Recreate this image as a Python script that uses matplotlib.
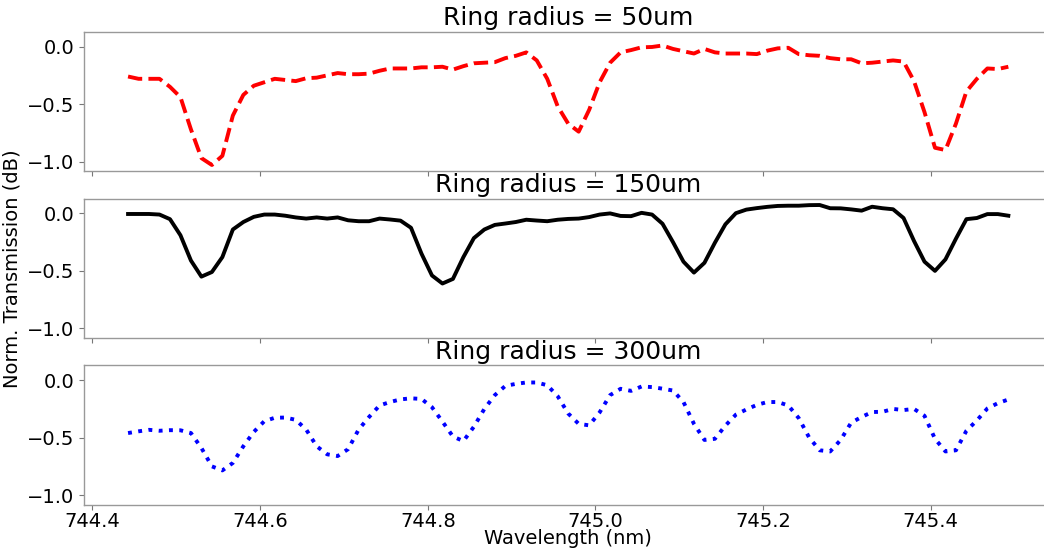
import numpy as np
import matplotlib
matplotlib.use("Agg")
import matplotlib.pyplot as plt

# Wavelength grid (nm), evenly sampled
wavelength = np.linspace(744.4425, 745.4925, 85)

r50 = [-0.26, -0.28, -0.28, -0.28, -0.35, -0.44, -0.72, -0.97, -1.03, -0.95,
       -0.60, -0.42, -0.34, -0.31, -0.28, -0.29, -0.30, -0.275, -0.27, -0.25,
       -0.23, -0.24, -0.24, -0.235, -0.21, -0.19, -0.19, -0.19, -0.18, -0.18,
       -0.175, -0.20, -0.17, -0.145, -0.14, -0.135, -0.10, -0.08, -0.05, -0.12,
       -0.28, -0.52, -0.67, -0.74, -0.55, -0.31, -0.14, -0.05, -0.03, -0.006,
       -0.003, 0.01, -0.02, -0.04, -0.06, -0.02, -0.05, -0.06, -0.06, -0.06,
       -0.065, -0.035, -0.015, -0.01, -0.065, -0.075, -0.08, -0.10, -0.11, -0.11,
       -0.145, -0.14, -0.13, -0.12, -0.13, -0.30, -0.57, -0.88, -0.90, -0.67,
       -0.39, -0.28, -0.19, -0.195, -0.175]

r150 = [-0.005, -0.005, -0.005, -0.01, -0.05, -0.19, -0.41, -0.55, -0.51, -0.38,
        -0.14, -0.075, -0.03, -0.01, -0.01, -0.02, -0.035, -0.045, -0.035, -0.045,
        -0.035, -0.06, -0.068, -0.068, -0.045, -0.053, -0.063, -0.125, -0.35, -0.54,
        -0.61, -0.57, -0.38, -0.215, -0.14, -0.10, -0.088, -0.075, -0.055, -0.062,
        -0.068, -0.055, -0.048, -0.045, -0.032, -0.01, 0.0, -0.022, -0.024, 0.005,
        -0.01, -0.09, -0.25, -0.42, -0.515, -0.43, -0.255, -0.095, 0.002, 0.033,
        0.046, 0.057, 0.065, 0.067, 0.067, 0.072, 0.073, 0.045, 0.044, 0.035,
        0.024, 0.058, 0.045, 0.036, -0.04, -0.24, -0.42, -0.50, -0.40, -0.22,
        -0.05, -0.04, -0.006, -0.006, -0.02]

r300 = [-0.46, -0.445, -0.432, -0.44, -0.435, -0.436, -0.46, -0.59, -0.75, -0.785,
        -0.72, -0.575, -0.45, -0.357, -0.327, -0.325, -0.345, -0.43, -0.575, -0.645,
        -0.66, -0.60, -0.43, -0.32, -0.22, -0.19, -0.167, -0.158, -0.163, -0.235,
        -0.36, -0.49, -0.53, -0.405, -0.25, -0.13, -0.05, -0.032, -0.02, -0.02,
        -0.044, -0.14, -0.29, -0.38, -0.393, -0.28, -0.13, -0.075, -0.093, -0.055,
        -0.06, -0.074, -0.09, -0.19, -0.38, -0.52, -0.51, -0.395, -0.30, -0.255,
        -0.215, -0.19, -0.19, -0.22, -0.33, -0.50, -0.61, -0.62, -0.52, -0.37,
        -0.32, -0.277, -0.275, -0.25, -0.26, -0.25, -0.31, -0.51, -0.62, -0.61,
        -0.44, -0.35, -0.246, -0.20, -0.168]

titles = ["Ring radius = 50um", "Ring radius = 150um", "Ring radius = 300um"]
series = [r50, r150, r300]
colors = ["red", "black", "blue"]
styles = ["--", "-", ":"]
xticks = [744.4, 744.6, 744.8, 745.0, 745.2, 745.4]
yticks = [0.0, -0.5, -1.0]

plt.rcParams["font.family"] = ["DejaVu Sans"]
fig, axes = plt.subplots(3, 1, sharex=True, sharey=True, figsize=(10.44, 5.5), dpi=100)
fig.subplots_adjust(left=0.0805, right=1.008, top=0.942, bottom=0.082, hspace=0.196)

for ax, t, y, c, ls in zip(axes, titles, series, colors, styles):
    ax.plot(wavelength, y, color=c, linestyle=ls, linewidth=2.8)
    ax.set_title(t, fontsize=18, pad=5)
    ax.tick_params(labelsize=14, color="#777777")
    ax.tick_params(axis="x", pad=1.5)
    for sp in ax.spines.values():
        sp.set_color("#999999")
        sp.set_linewidth(1.0)

axes[-1].set_xticks(xticks)
axes[-1].set_xticklabels([f"{v:.1f}" for v in xticks])
axes[0].set_yticks(yticks)
axes[0].set_yticklabels([f"{v:.1f}".replace("-", "\u2212") for v in yticks])
axes[-1].set_xlabel("Wavelength (nm)", fontsize=14, labelpad=-1)
axes[1].set_ylabel("Norm. Transmission (dB)", fontsize=14)

fig.savefig("out.png", dpi=100)
